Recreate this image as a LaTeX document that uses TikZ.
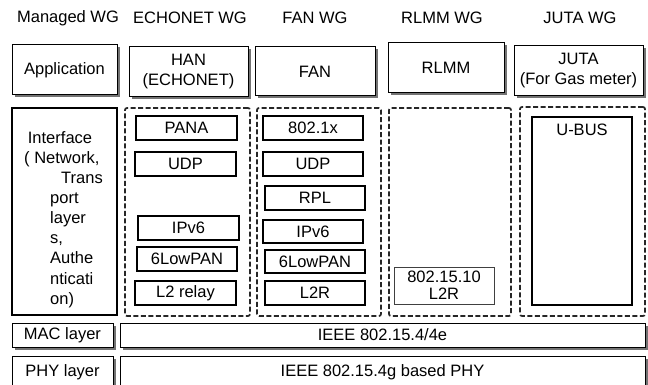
\documentclass[tikz,border=0pt]{standalone}
\usepackage{fontspec}
\setmainfont{Liberation Sans}
\usetikzlibrary{shadows}

\tikzset{
  lbl/.style={font=\fontsize{16.5}{20}\selectfont, inner sep=0pt},
  shbox/.style={draw=black, line width=1pt, fill=white, inner sep=0pt,
    align=center, font=\fontsize{16.5}{20}\selectfont,
    general shadow={fill=black!55, shadow xshift=2.5pt, shadow yshift=-2.5pt}},
  plainbox/.style={draw=black, line width=1.3pt, fill=white, inner sep=0pt,
    align=center, font=\fontsize{16.5}{20}\selectfont},
  thinbox/.style={draw=black!75, line width=0.9pt, fill=white, inner sep=0pt,
    align=center, font=\fontsize{16.5}{17}\selectfont},
  groupbox/.style={draw=black!85, line width=1.7pt, dash pattern=on 5pt off 2.5pt,
    rounded corners=2pt, inner sep=0pt},
}

% \layerbox{style}{name}{x1}{y1}{x2}{y2}{text}
\newcommand{\layerbox}[7]{%
  \node[#1, minimum width={#5pt-#3pt}, minimum height={#6pt-#4pt}]
    (#2) at ({(#3+#5)/2},{(#4+#6)/2}) {#7};}

\begin{document}
\begin{tikzpicture}[x=1pt, y=-1pt]
\useasboundingbox (0,0) rectangle (648,385);
\clip (0,0) rectangle (648,385);
\fill[white] (0,0) rectangle (648,385);

% column headings
\node[lbl] (hmg)  at (68,18)  {Managed WG};
\node[lbl] (hech) at (190,18) {ECHONET WG};
\node[lbl] (hfan) at (315,18) {FAN WG};
\node[lbl] (hrl)  at (442,18) {RLMM WG};
\node[lbl] (hju)  at (580,18) {JUTA WG};

% application row
\layerbox{shbox}{app}{12}{45}{117}{95}{Application}
\layerbox{shbox}{han}{129}{47}{248}{97}{HAN\\(ECHONET)}
\layerbox{shbox}{fan}{255}{47}{375}{96}{FAN}
\layerbox{shbox}{rlmm}{388}{43}{504}{93}{RLMM}
\layerbox{shbox}{juta}{514}{46}{643}{96}{JUTA\\(For Gas meter)}

% interface row
\layerbox{plainbox}{iface}{12}{108}{117}{315}{}
\node[lbl, anchor=mid]      (if1) at (60,141)  {Interface};
\node[lbl, anchor=mid west] (if2) at (24,161)  {( Network,};
\node[lbl, anchor=mid east] (if3) at (103,181) {Trans};
\node[lbl, anchor=mid west] (if4) at (50,201)  {port};
\node[lbl, anchor=mid west] (if5) at (50,221)  {layer};
\node[lbl, anchor=mid west] (if6) at (50,241)  {s,};
\node[lbl, anchor=mid west] (if7) at (50,261)  {Authe};
\node[lbl, anchor=mid west] (if8) at (50,282)  {nticati};
\node[lbl, anchor=mid west] (if9) at (50,302)  {on)};

% protocol stacks, one dashed group per working group
\layerbox{groupbox}{gech}{125}{108}{250}{316}{}
\layerbox{groupbox}{gfan}{257}{108}{381}{316}{}
\layerbox{groupbox}{grl}{389}{108}{511}{316}{}
\layerbox{groupbox}{gju}{520}{107}{645}{316}{}

% ECHONET stack
\layerbox{plainbox}{epana}{136}{116}{237}{140}{PANA}
\layerbox{plainbox}{eudp}{135}{152}{236}{176}{UDP}
\layerbox{plainbox}{eip}{138}{216}{239}{240}{IPv6}
\layerbox{plainbox}{elow}{137}{247}{237}{271}{6LowPAN}
\layerbox{plainbox}{erel}{135}{281}{236}{305}{L2 relay}

% FAN stack
\layerbox{plainbox}{fdot}{263}{116}{363}{140}{802.1x}
\layerbox{plainbox}{fudp}{263}{152}{363}{176}{UDP}
\layerbox{plainbox}{frpl}{265}{186}{365}{210}{RPL}
\layerbox{plainbox}{fip}{263}{220}{363}{243}{IPv6}
\layerbox{plainbox}{flow}{265}{250}{365}{273}{6LowPAN}
\layerbox{plainbox}{fl2r}{265}{281}{365}{305}{L2R}

% RLMM stack
\layerbox{thinbox}{rl2r}{394}{267}{494}{304}{802.15.10\\L2R}

% JUTA stack
\layerbox{plainbox}{ubus}{532}{117}{632}{305}{}
\node[lbl] (ubust) at (582,130) {U-BUS};

% MAC and PHY rows
\layerbox{shbox}{mac}{12}{323}{113}{347}{MAC layer}
\layerbox{shbox}{macstd}{120}{323}{645}{347}{IEEE 802.15.4/4e}
\layerbox{shbox}{phy}{12}{356}{113}{388}{PHY layer}
\layerbox{shbox}{phystd}{120}{356}{645}{388}{IEEE 802.15.4g based PHY}
\end{tikzpicture}
\end{document}
